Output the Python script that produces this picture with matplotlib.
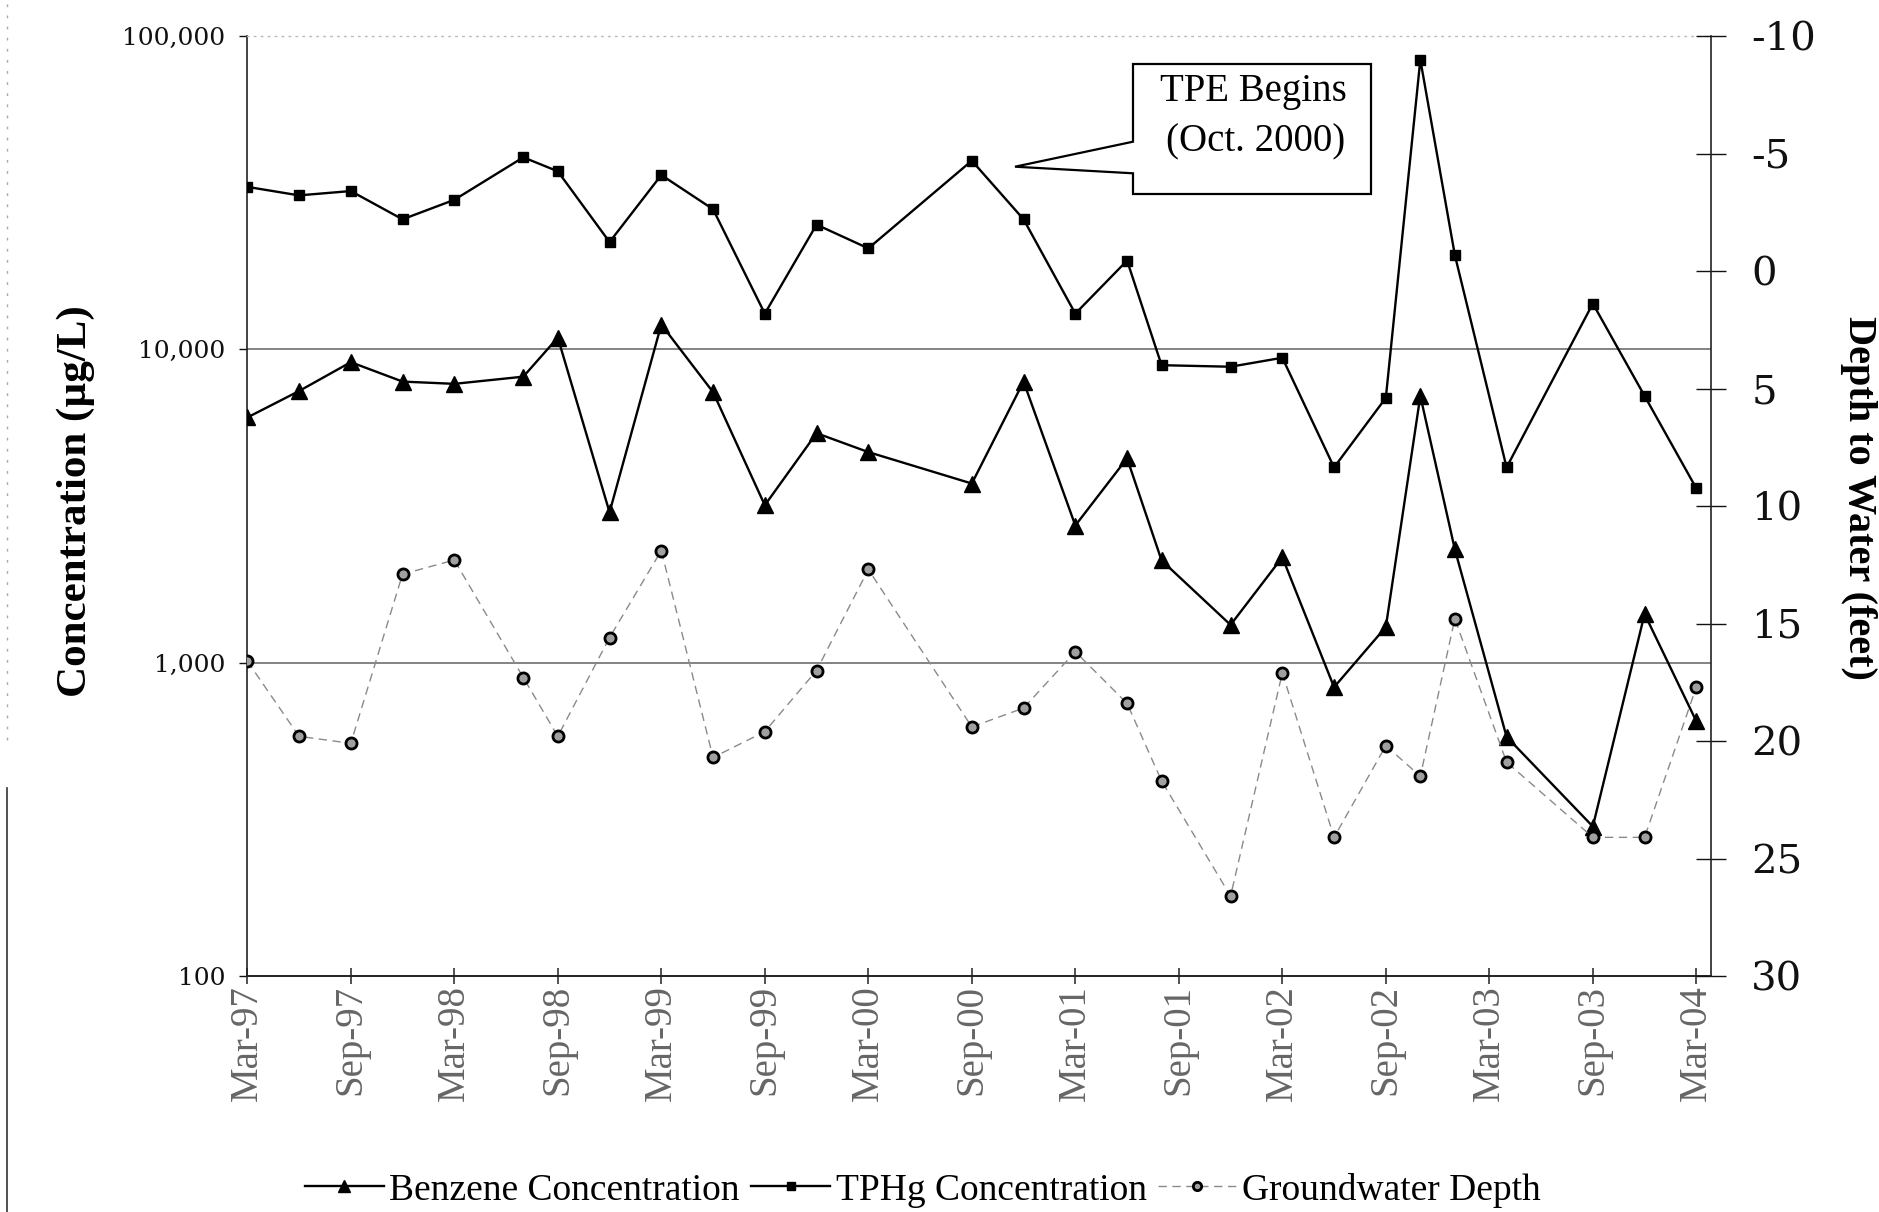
import matplotlib
matplotlib.use("Agg")
import matplotlib.pyplot as plt
from matplotlib.patches import Polygon
from matplotlib.lines import Line2D
from matplotlib.ticker import NullLocator

# ---------------- data ----------------
dates = ["1997-03", "1997-06", "1997-09", "1997-12", "1998-03", "1998-07", "1998-09",
         "1998-12", "1999-03", "1999-06", "1999-09", "1999-12", "2000-03", "2000-09",
         "2000-12", "2001-03", "2001-06", "2001-08", "2001-12", "2002-03", "2002-06",
         "2002-09", "2002-11", "2003-01", "2003-04", "2003-09", "2003-12", "2004-03"]

benzene = [6060, 7360, 9100, 7890, 7760, 8180, 10900, 3020, 12000, 7300, 3180, 5400,
           4700, 3730, 7890, 2740, 4490, 2120, 1320, 2170, 835, 1300, 7100, 2300,
           580, 300, 1430, 650]

tphg = [33000, 31000, 32000, 26000, 30000, 41000, 37000, 22000, 36000, 28000, 13000,
        25000, 21000, 40000, 26000, 13000, 19200, 8900, 8800, 9400, 4200, 7000, 84000,
        20000, 4200, 14000, 7100, 3600]

gw_depth = [16.6, 19.8, 20.1, 12.9, 12.3, 17.3, 19.8, 15.6, 11.9, 20.7, 19.6, 17.0,
            12.7, 19.4, 18.6, 16.2, 18.4, 21.7, 26.6, 17.1, 24.1, 20.2, 21.5, 14.8,
            20.9, 24.1, 24.1, 17.7]

tick_dates = ["1997-03", "1997-09", "1998-03", "1998-09", "1999-03", "1999-09", "2000-03",
              "2000-09", "2001-03", "2001-09", "2002-03", "2002-09", "2003-03", "2003-09",
              "2004-03"]
tick_labels = ["Mar-97", "Sep-97", "Mar-98", "Sep-98", "Mar-99", "Sep-99", "Mar-00",
               "Sep-00", "Mar-01", "Sep-01", "Mar-02", "Sep-02", "Mar-03", "Sep-03",
               "Mar-04"]

left_ticks = [100, 1000, 10000, 100000]
left_tick_labels = ["100", "1,000", "10,000", "100,000"]
right_ticks = [-10, -5, 0, 5, 10, 15, 20, 25, 30]
right_tick_labels = ["-10", "-5", "0", "5", "10", "15", "20", "25", "30"]

series_labels = ["Benzene Concentration", "TPHg Concentration", "Groundwater Depth"]
callout_lines = ["TPE Begins", "(Oct. 2000)"]


def month_index(s, base="1997-03"):
    y, m = map(int, s.split("-"))
    by, bm = map(int, base.split("-"))
    return (y - by) * 12 + (m - bm)


x = [month_index(d) for d in dates]
xt = [month_index(d) for d in tick_dates]

# ---------------- figure ----------------
W, H = 1879, 1212
fig = plt.figure(figsize=(W / 100, H / 100), dpi=100)
fig.patch.set_facecolor("white")


def fx(px):
    return px / W


def fy(py):
    return 1 - py / H


ax = fig.add_axes([fx(247.3), fy(976), fx(1711) - fx(247.3), fy(36) - fy(976)])
ax.set_yscale("log")
ax.set_ylim(100, 100000)
ax.set_xlim(0, 84.85)
ax.yaxis.set_minor_locator(NullLocator())
ax.xaxis.set_minor_locator(NullLocator())

for val in (1000, 10000):
    ax.axhline(val, color="#7a7a7a", lw=1.3, zorder=1)

ax.spines["top"].set_color("#bbbbbb")
ax.spines["top"].set_linestyle((0, (1, 4)))
ax.spines["top"].set_linewidth(1.0)
ax.spines["right"].set_visible(False)
ax.spines["left"].set_color("#222222")
ax.spines["left"].set_linewidth(1.2)
ax.spines["bottom"].set_color("#222222")
ax.spines["bottom"].set_linewidth(1.4)

ax.set_yticks(left_ticks)
ax.set_yticklabels(left_tick_labels, fontfamily="DejaVu Serif", fontsize=18)
ax.tick_params(axis="y", direction="out", length=6, width=1, pad=10, colors="#111111")

ax.set_xticks(xt)
ax.set_xticklabels(tick_labels, rotation=90, fontfamily="Liberation Serif",
                   fontsize=28)
ax.tick_params(axis="x", direction="inout", length=11, width=1.2, pad=1, colors="#333333")
for lab in ax.get_xticklabels():
    lab.set_color("#666666")

ax2 = ax.twinx()
ax2.set_ylim(30, -10)
ax2.set_xlim(0, 84.85)
for s in ("top", "left", "bottom"):
    ax2.spines[s].set_visible(False)
ax2.spines["right"].set_color("#222222")
ax2.spines["right"].set_linewidth(1.2)
ax2.set_yticks(right_ticks)
ax2.set_yticklabels(right_tick_labels, fontfamily="DejaVu Serif", fontsize=29)
ax2.yaxis.set_minor_locator(NullLocator())
ax2.tick_params(axis="y", direction="inout", length=22, width=1, pad=18, colors="#111111")

# series
l1, = ax.plot(x, benzene, color="black", lw=1.7, marker="^", ms=11, mfc="black",
              mec="black", zorder=4, label=series_labels[0])
l2, = ax.plot(x, tphg, color="black", lw=1.7, marker="s", ms=7.5, mfc="black",
              mec="black", zorder=4, label=series_labels[1])
l3, = ax2.plot(x, gw_depth, color="#8a8a8a", lw=1.0, ls=(0, (6, 4)), marker="o", ms=8,
               mfc="#a0a0a0", mec="black", mew=2.0, zorder=3, label=series_labels[2])

# callout box
verts_px = [(1133, 64), (1371, 64), (1371, 194), (1133, 194), (1133, 173.3),
            (1015, 166.7), (1133, 141.7)]
verts = [(fx(a), fy(b)) for a, b in verts_px]
fig.add_artist(Polygon(verts, closed=True, transform=fig.transFigure, facecolor="white",
                       edgecolor="black", lw=1.6, zorder=10))
fig.text(fx(1253), fy(91), callout_lines[0], ha="center", va="center",
         fontfamily="Liberation Serif", fontsize=28, zorder=11)
fig.text(fx(1256), fy(142), callout_lines[1], ha="center", va="center",
         fontfamily="Liberation Serif", fontsize=28, zorder=11)

# axis titles
fig.text(fx(75.5), fy(501), "Concentration (\u00b5g/L)", rotation=90, ha="center",
         va="center", fontfamily="Liberation Serif", fontweight="bold", fontsize=31)
fig.text(fx(1877), fy(498), "Depth to Water (feet)", rotation=270, ha="right",
         va="center", fontfamily="Liberation Serif", fontweight="bold", fontsize=29)

# legend
fig.legend([l1, l2, l3], series_labels, loc="center", bbox_to_anchor=(fx(923), fy(1190)),
           ncol=3, frameon=False, prop={"family": "Liberation Serif", "size": 27},
           handlelength=2.1, handletextpad=0.15, columnspacing=0.3, markerscale=0.75,
           borderpad=0, borderaxespad=0)

# scan edge line at far left
fig.add_artist(Line2D([fx(7), fx(7)], [0, fy(788)], transform=fig.transFigure,
                      color="#333333", lw=1.2))
fig.add_artist(Line2D([fx(7), fx(7)], [fy(740), fy(0)], transform=fig.transFigure,
                      color="#aaaaaa", lw=1.0, ls=(0, (2, 6))))

fig.savefig("out.png", dpi=100, facecolor="white")
